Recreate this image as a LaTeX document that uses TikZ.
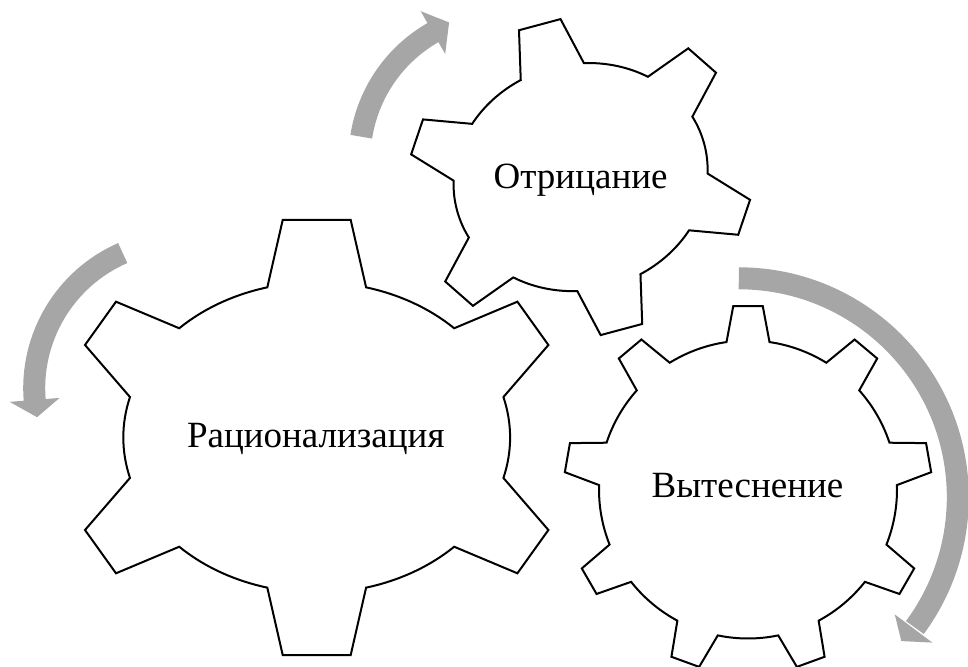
\documentclass[tikz,border=0pt]{standalone}
\usepackage{fontspec}
\setmainfont{Liberation Serif}
\definecolor{arrowgray}{RGB}{166,166,166}

\begin{document}
\begin{tikzpicture}[x=1pt, y=1pt]
    \tikzset{gearline/.style={draw=black, line width=2pt, line join=miter},
             gearname/.style={anchor=base, font=\fontsize{37}{40}\selectfont},
             turnband/.style={draw=arrowgray, line width=22pt}}
    \useasboundingbox (0,0) rectangle (968,666);
    \coordinate (big) at (316.7,228.5);
    \coordinate (top) at (580.6,488.9);
    \coordinate (small) at (748,176.5);
    % big gear, six teeth
    \begin{scope}[shift={(big)}]
        \draw[gearline] (15.1:193.4 and 155.3) -- (231.7,92.5) -- (200.7,135.8)
            -- (44.7:193.4 and 155.3) arc[start angle=44.7, end angle=75.2, x radius=193.4, y radius=155.3]
            -- (34,217.5) -- (-34,217.5)
            -- (104.8:193.4 and 155.3) arc[start angle=104.8, end angle=135.3, x radius=193.4, y radius=155.3]
            -- (-200.7,135.8) -- (-231.7,92.5)
            -- (164.9:193.4 and 155.3) arc[start angle=164.9, end angle=195.1, x radius=193.4, y radius=155.3]
            -- (-231.7,-92.5) -- (-200.7,-135.8)
            -- (224.7:193.4 and 155.3) arc[start angle=224.7, end angle=255.2, x radius=193.4, y radius=155.3]
            -- (-34,-217.5) -- (34,-217.5)
            -- (284.8:193.4 and 155.3) arc[start angle=284.8, end angle=315.3, x radius=193.4, y radius=155.3]
            -- (200.7,-135.8) -- (231.7,-92.5)
            -- (344.9:193.4 and 155.3) arc[start angle=344.9, end angle=375.1, x radius=193.4, y radius=155.3]
            -- cycle;
    \end{scope}
    % top gear, six teeth, turned
    \begin{scope}[shift={(top)}, rotate=15]
        \draw[gearline] (15.1:128 and 113) -- (157.8,65.8) -- (137.3,96.5)
            -- (44.7:128 and 113) arc[start angle=44.7, end angle=75.2, x radius=128, y radius=113]
            -- (21.5,157.8) -- (-21.5,157.8)
            -- (104.8:128 and 113) arc[start angle=104.8, end angle=135.3, x radius=128, y radius=113]
            -- (-137.3,96.5) -- (-157.8,65.8)
            -- (164.9:128 and 113) arc[start angle=164.9, end angle=195.1, x radius=128, y radius=113]
            -- (-157.8,-65.8) -- (-137.3,-96.5)
            -- (224.7:128 and 113) arc[start angle=224.7, end angle=255.2, x radius=128, y radius=113]
            -- (-21.5,-157.8) -- (21.5,-157.8)
            -- (284.8:128 and 113) arc[start angle=284.8, end angle=315.3, x radius=128, y radius=113]
            -- (137.3,-96.5) -- (157.8,-65.8)
            -- (344.9:128 and 113) arc[start angle=344.9, end angle=375.1, x radius=128, y radius=113]
            -- cycle;
    \end{scope}
    % small gear, nine teeth
    \begin{scope}[shift={(small)}]
        \draw[gearline] (81.7:149) foreach \a in {90,130,...,410} {
            -- ({\a-4.6}:184) -- ({\a+4.6}:184) -- ({\a+8.3}:149)
            arc[start angle=\a+8.3, end angle=\a+31.7, radius=149]
        } -- cycle;
    \end{scope}
    % arrows
    \begin{scope}[shift={(505.5,506.7)}]
        \draw[turnband] (171.1:146) arc[start angle=171.1, end angle=119.3, radius=146];
        \fill[arrowgray] (119.8:170.7) -- (112.4:148) -- (119.8:121.4) -- cycle;
    \end{scope}
    \begin{scope}[shift={(181.8,277.7)}]
        \draw[turnband] (113.6:147.6) arc[start angle=113.6, end angle=185, radius=147.6];
        \fill[arrowgray] (184.5:172.7) -- (191.3:147.6) -- (184.5:122.6) -- cycle;
    \end{scope}
    \begin{scope}[shift={(738.8,168.7)}]
        \draw[turnband] (90:219) arc[start angle=90, end angle=-36.5, radius=219];
        \fill[arrowgray] (-36.9:242) -- (-41.5:217) -- (-36.9:195) -- cycle;
    \end{scope}
    \node[gearname] (ratio) at (315.8,218) {Рационализация};
    \node[gearname] (denial) at (580.6,477.7) {Отрицание};
    \node[gearname] (repress) at (747.5,168.7) {Вытеснение};
\end{tikzpicture}
\end{document}
